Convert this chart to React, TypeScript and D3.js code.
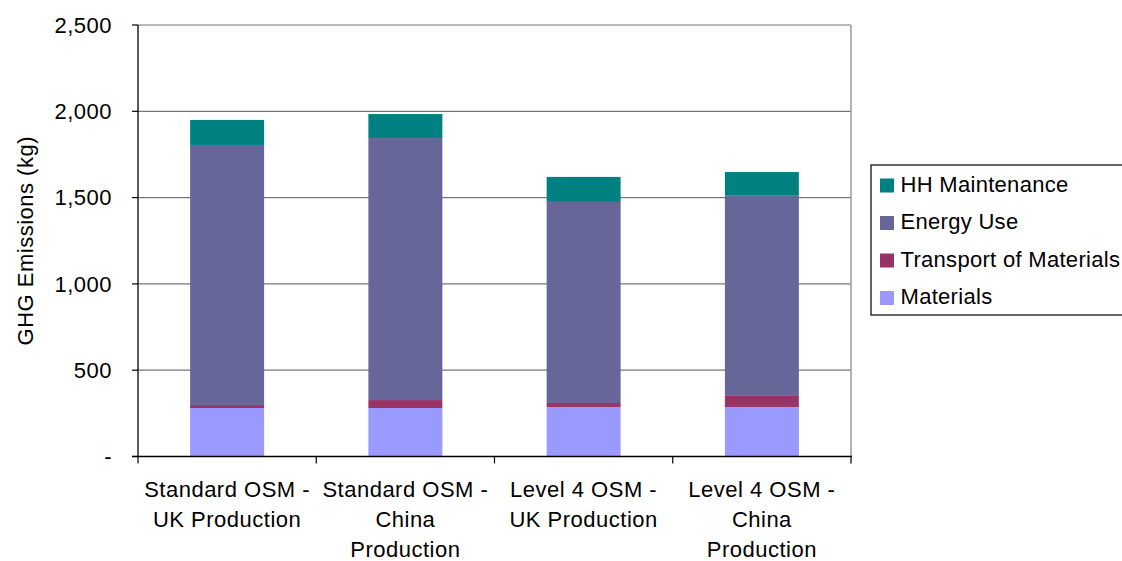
import React from "react";
import * as d3 from "d3";

// GHG emissions by life-cycle stage for four building options (kg)
const categories: string[][] = [
  ["Standard OSM -", "UK Production"],
  ["Standard OSM -", "China", "Production"],
  ["Level 4 OSM -", "UK Production"],
  ["Level 4 OSM -", "China", "Production"],
];
const materials = [281, 281, 287, 287];
const transport = [17, 46, 23, 64];
const energyUse = [1507, 1518, 1165, 1160];
const hhMaintenance = [145, 139, 145, 137];

const seriesNames = ["Materials", "Transport of Materials", "Energy Use", "HH Maintenance"];
const seriesColors = ["#9999FF", "#993366", "#666699", "#008080"];
const yTicks = [0, 500, 1000, 1500, 2000, 2500];

const W = 1122;
const H = 561;
const plot = { left: 138, right: 851, top: 25, bottom: 456.5 };
const FONT = "'Liberation Sans', Arial, sans-serif";
const FS = 22;
const LS = 0.5;

export default function App() {
  const rows = categories.map((c, i) => ({
    key: String(i),
    Materials: materials[i],
    "Transport of Materials": transport[i],
    "Energy Use": energyUse[i],
    "HH Maintenance": hhMaintenance[i],
  }));
  const stacked = d3.stack<any>().keys(seriesNames)(rows);

  const x = d3
    .scaleBand<string>()
    .domain(rows.map((r) => r.key))
    .range([plot.left, plot.right])
    .paddingInner(0.585)
    .paddingOuter(0.2925);
  const y = d3.scaleLinear().domain([0, 2500]).range([plot.bottom, plot.top]);
  const fmt = (v: number) => (v === 0 ? "-" : d3.format(",")(v));

  const step = x.step();
  const boundaries = d3.range(categories.length + 1).map((i) => plot.left + i * step);

  const legendItems = [...seriesNames].reverse();
  const legendColors = [...seriesColors].reverse();

  return (
    <svg
      width={W}
      height={H}
      style={{ position: "absolute", left: 0, top: 0, background: "#fff" }}
      fontFamily={FONT}
      letterSpacing={LS}
    >
      {/* gridlines */}
      {yTicks.slice(1).map((t) => (
        <line key={t} x1={plot.left} x2={plot.right} y1={y(t)} y2={y(t)} stroke="#777" strokeWidth={1.2} />
      ))}
      {/* right border of plot area */}
      <line x1={plot.right} x2={plot.right} y1={plot.top} y2={plot.bottom} stroke="#999" strokeWidth={1.5} />

      {/* stacked bars */}
      {stacked.map((s, si) =>
        s.map((d, i) => (
          <rect
            key={`${si}-${i}`}
            x={x(String(i))}
            width={x.bandwidth()}
            y={y(d[1])}
            height={y(d[0]) - y(d[1])}
            fill={seriesColors[si]}
          />
        ))
      )}

      {/* axes */}
      <line x1={plot.left} x2={plot.left} y1={plot.top} y2={plot.bottom} stroke="#000" strokeWidth={1.3} />
      <line x1={plot.left - 6} x2={plot.right + 1} y1={plot.bottom} y2={plot.bottom} stroke="#000" strokeWidth={1.3} />
      {yTicks.map((t) => (
        <g key={t}>
          <line x1={plot.left - 6} x2={plot.left} y1={y(t)} y2={y(t)} stroke="#000" strokeWidth={1.2} />
          <text x={112} y={y(t) + 7.8} textAnchor="end" fontSize={FS} fill="#000">
            {fmt(t)}
          </text>
        </g>
      ))}
      {boundaries.map((bx, i) => (
        <line key={i} x1={bx} x2={bx} y1={plot.bottom} y2={plot.bottom + 7} stroke="#000" strokeWidth={1.2} />
      ))}
      {categories.map((lines, i) => (
        <text key={i} textAnchor="middle" fontSize={FS} fill="#000">
          {lines.map((ln, li) => (
            <tspan key={li} x={(x(String(i)) as number) + x.bandwidth() / 2} y={497 + li * 30.2}>
              {ln}
            </tspan>
          ))}
        </text>
      ))}

      {/* y-axis title */}
      <text
        transform={`translate(33, ${(plot.top + plot.bottom) / 2}) rotate(-90)`}
        textAnchor="middle"
        fontSize={FS}
        fill="#000"
      >
        GHG Emissions (kg)
      </text>

      {/* legend */}
      <rect x={871} y={165} width={260} height={150} fill="#fff" stroke="#000" strokeWidth={1.2} />
      {legendItems.map((name, i) => {
        const cy = 184 + i * 37.5;
        return (
          <g key={name}>
            <rect x={880} y={cy - 5.5} width={14} height={14} fill={legendColors[i]} />
            <text x={900.5} y={cy + 7.9} fontSize={FS} letterSpacing={0.3} fill="#000">
              {name}
            </text>
          </g>
        );
      })}
    </svg>
  );
}
